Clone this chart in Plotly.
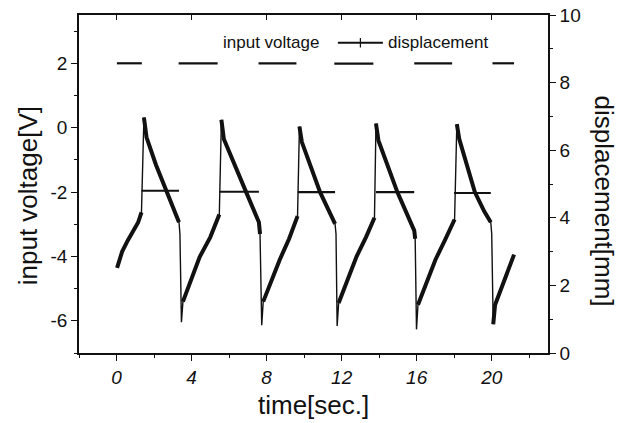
import plotly.graph_objects as go

# ---- data ----
# input voltage: square wave segments (start time, end time, level in V)
volt_start = [0.02, 1.33, 3.31, 5.49, 7.57, 9.66, 11.61, 13.83, 15.87, 17.99, 20.04]
volt_end   = [1.35, 3.33, 5.39, 7.59, 9.59, 11.65, 13.69, 15.87, 17.89, 19.95, 21.19]
volt_level = [2.00, -1.96, 2.00, -1.99, 2.00, -2.00, 1.99, -2.00, 2.00, -2.03, 2.00]

# displacement (mm, right axis)
disp_t = [0.03, 0.3, 0.6, 0.9, 1.15, 1.33, 1.46, 1.6, 2.1, 2.66, 3.0, 3.33, 3.38, 3.46,
          3.54, 4.43, 5.0, 5.4, 5.48, 5.59, 5.72, 6.91, 7.3, 7.59, 7.65, 7.74,
          7.82, 8.7, 9.2, 9.57, 9.65, 9.75, 9.88, 10.85, 11.3, 11.65, 11.7, 11.76,
          11.84, 12.8, 13.3, 13.69, 13.75, 13.83, 13.96, 14.97, 15.5, 15.87, 15.92, 15.99,
          16.07, 17.0, 17.5, 17.94, 18.02, 18.14, 18.27, 19.1, 19.6, 19.95, 20.0, 20.08,
          20.18, 20.7, 21.19]
disp_mm = [2.52, 3.00, 3.33, 3.62, 3.86, 4.16, 6.97, 6.38, 5.57, 4.76, 4.33, 3.87, 3.52, 0.91,
           1.52, 2.84, 3.43, 3.97, 4.10, 6.90, 6.33, 4.76, 4.29, 3.87, 3.52, 0.82,
           1.52, 2.76, 3.38, 3.91, 4.05, 6.70, 6.24, 4.76, 4.24, 3.82, 3.52, 0.80,
           1.48, 2.86, 3.43, 3.87, 4.00, 6.79, 6.29, 4.76, 4.05, 3.62, 3.38, 0.70,
           1.43, 2.76, 3.33, 3.82, 3.95, 6.77, 6.33, 4.76, 4.19, 3.87, 3.52, 0.85,
           1.43, 2.19, 2.91]

x_ticks = [0, 4, 8, 12, 16, 20]
left_ticks = [-6, -4, -2, 0, 2]
right_ticks = [0, 2, 4, 6, 8, 10]

INK = "#111111"
FONT = "Liberation Sans, Arial, sans-serif"

# build square-wave polyline with gaps
vx, vy = [], []
for s, e, lv in zip(volt_start, volt_end, volt_level):
    vx += [s, e, None]
    vy += [lv, lv, None]

# thick band only on slow ramps; steep jumps drawn thin
tx, ty = [disp_t[0]], [disp_mm[0]]
for i in range(1, len(disp_t)):
    dt = disp_t[i] - disp_t[i - 1]
    dv = abs(disp_mm[i] - disp_mm[i - 1])
    if dv / dt > 6:
        tx.append(None); ty.append(None)
    tx.append(disp_t[i]); ty.append(disp_mm[i])

fig = go.Figure()
fig.add_trace(go.Scatter(x=vx, y=vy, mode="lines", line=dict(color=INK, width=2.2),
                         showlegend=False, yaxis="y"))
fig.add_trace(go.Scatter(x=disp_t, y=disp_mm, mode="lines", line=dict(color=INK, width=1.4),
                         showlegend=False, yaxis="y2"))
fig.add_trace(go.Scatter(x=tx, y=ty, mode="lines", line=dict(color=INK, width=4),
                         showlegend=False, yaxis="y2", connectgaps=False))
# invisible single-point trace so the top axis (inward ticks) gets drawn
fig.add_trace(go.Scatter(x=[volt_start[0]], y=[volt_level[0]], mode="lines",
                         line=dict(width=0), xaxis="x2", yaxis="y",
                         showlegend=False, hoverinfo="skip"))

axis_common = dict(showgrid=False, zeroline=False, showline=True, linecolor=INK, linewidth=1.6,
                   ticks="outside", ticklen=6, tickwidth=1.4, tickcolor=INK, automargin=False)

fig.update_layout(
    width=620, height=423,
    margin=dict(l=79, r=72, t=15, b=70),
    paper_bgcolor="white", plot_bgcolor="white",
    font=dict(family=FONT, color=INK),
    xaxis=dict(range=[-2, 23], tickvals=x_ticks, ticktext=[str(v) for v in x_ticks],
               tickfont=dict(size=19, style="italic"),
               minor=dict(dtick=2, tick0=0, ticklen=3, ticks="outside", tickcolor=INK),
               **axis_common),
    xaxis2=dict(range=[-2, 23], overlaying="x", side="top", tickvals=x_ticks,
                showticklabels=False, showgrid=False, zeroline=False, showline=True,
                linecolor=INK, linewidth=1.6, ticks="inside", ticklen=5, tickwidth=1.4,
                tickcolor=INK, automargin=False),
    yaxis=dict(range=[-7, 3.5], tickvals=left_ticks, ticktext=[str(v) for v in left_ticks],
               tickfont=dict(size=19),
               minor=dict(dtick=1, tick0=1, ticklen=3, ticks="outside", tickcolor=INK),
               **axis_common),
    yaxis2=dict(range=[0, 10], overlaying="y", side="right", tickvals=right_ticks,
                ticktext=[str(v) for v in right_ticks], tickfont=dict(size=19),
                minor=dict(dtick=1, tick0=1, ticklen=3, ticks="outside", tickcolor=INK),
                **axis_common),
)

# axis titles
fig.add_annotation(text="time[sec.]", xref="paper", yref="paper", x=0.50, y=-0.155,
                   xanchor="center", yanchor="middle", showarrow=False,
                   font=dict(size=26, family=FONT, color=INK))
fig.add_annotation(text="input voltage[V]", xref="paper", yref="paper", x=-0.11, y=0.465,
                   xanchor="center", yanchor="middle", showarrow=False, textangle=-90,
                   font=dict(size=26, family=FONT, color=INK))
fig.add_annotation(text="displacement[mm]", xref="paper", yref="paper", x=1.12, y=0.45,
                   xanchor="center", yanchor="middle", showarrow=False, textangle=90,
                   font=dict(size=26, family=FONT, color=INK))

# legend (drawn by hand to mirror the original layout)
fig.add_annotation(text="input voltage", xref="paper", yref="paper", x=0.41, y=0.92,
                   xanchor="center", yanchor="middle", showarrow=False,
                   font=dict(size=17, family=FONT, color=INK))
fig.add_annotation(text="displacement", xref="paper", yref="paper", x=0.655, y=0.92,
                   xanchor="left", yanchor="middle", showarrow=False,
                   font=dict(size=17, family=FONT, color=INK))
fig.add_shape(type="line", xref="paper", yref="paper", x0=0.552, x1=0.648, y0=0.918, y1=0.918,
              line=dict(color=INK, width=2))
fig.add_shape(type="line", xref="paper", yref="paper", x0=0.6, x1=0.6, y0=0.904, y1=0.932,
              line=dict(color=INK, width=1.2))

fig.write_html("out.html", config={"displayModeBar": False},
               post_script="document.body.style.margin='0px';")
